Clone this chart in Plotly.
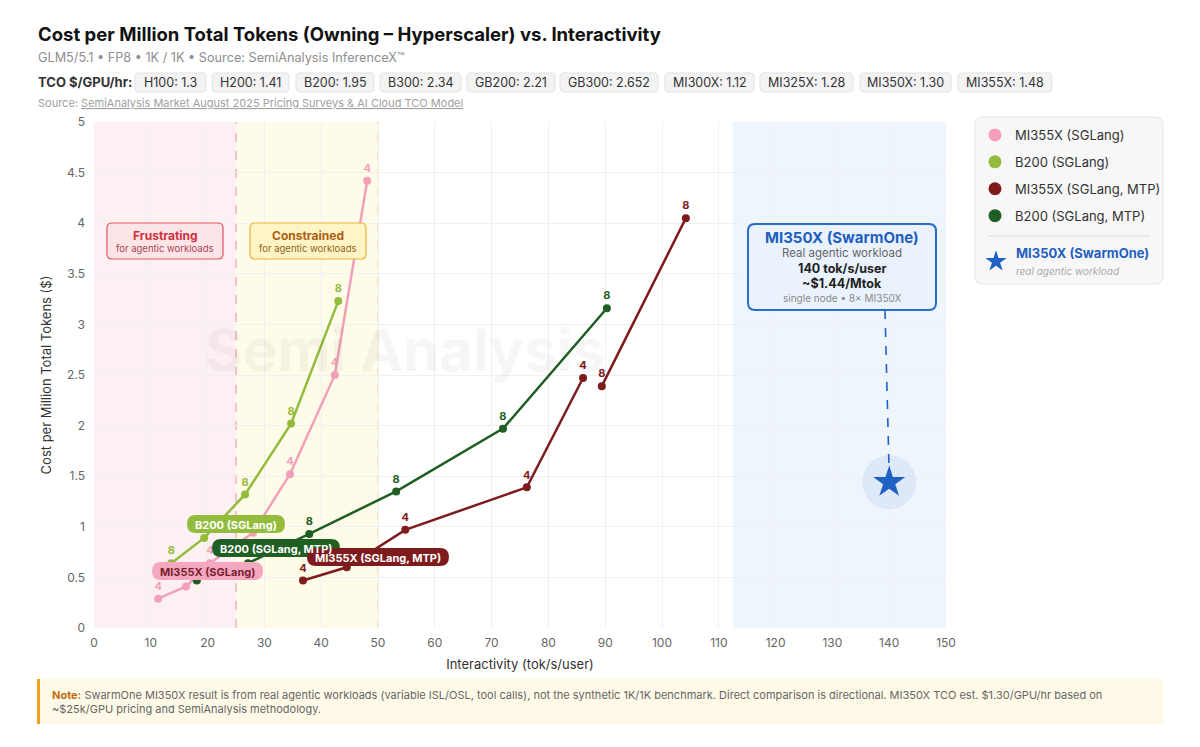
import plotly.graph_objects as go

FONT = "Inter, Roboto, 'DejaVu Sans', sans-serif"

# ---------------- data ----------------
mi355x_x = [11.3, 16.2, 20.4, 28.0, 34.5, 42.4, 48.1]
mi355x_y = [0.29, 0.41, 0.64, 0.94, 1.52, 2.50, 4.42]
mi355x_tp = ["4", "4", "4", "4", "4", "4", "4"]

b200_x = [13.6, 19.4, 26.6, 34.7, 43.0]
b200_y = [0.64, 0.89, 1.32, 2.02, 3.23]
b200_tp = ["8", "8", "8", "8", "8"]

mi355x_mtp_a_x = [36.8, 44.5, 54.8, 76.2, 86.1]
mi355x_mtp_a_y = [0.47, 0.60, 0.97, 1.39, 2.47]
mi355x_mtp_a_tp = ["4", "4", "4", "4", "4"]
mi355x_mtp_b_x = [89.4, 104.2]
mi355x_mtp_b_y = [2.39, 4.05]
mi355x_mtp_b_tp = ["8", "8"]

b200_mtp_x = [18.1, 27.1, 37.9, 53.2, 72.0, 90.3]
b200_mtp_y = [0.47, 0.64, 0.93, 1.35, 1.97, 3.16]
b200_mtp_tp = ["8", "8", "8", "8", "8", "8"]

swarm_x = [140]
swarm_y = [1.44]

tco_labels = ["H100: 1.3", "H200: 1.41", "B200: 1.95", "B300: 2.34", "GB200: 2.21",
              "GB300: 2.652", "MI300X: 1.12", "MI325X: 1.28", "MI350X: 1.30", "MI355X: 1.48"]

x_ticks = list(range(0, 151, 10))
y_ticks = [0, 0.5, 1, 1.5, 2, 2.5, 3, 3.5, 4, 4.5, 5]

# ---------------- style ----------------
C_PINK = "#f2a0ba"
C_LGREEN = "#93bc3c"
C_DRED = "#7e1b1d"
C_DGREEN = "#1f5f23"
C_BLUE = "#1f62c4"

W, H = 1200, 747
L, T, PW, PH = 94, 122, 852, 506


def px(x):
    return (x - L) / PW


def py(y):
    return (T + PH - y) / PH


def rrect(x0, y0, x1, y1, r):
    p = lambda x, y: f"{px(x):.5f},{py(y):.5f}"
    return (f"M{p(x0 + r, y0)} L{p(x1 - r, y0)} Q{p(x1, y0)} {p(x1, y0 + r)} "
            f"L{p(x1, y1 - r)} Q{p(x1, y1)} {p(x1 - r, y1)} L{p(x0 + r, y1)} "
            f"Q{p(x0, y1)} {p(x0, y1 - r)} L{p(x0, y0 + r)} Q{p(x0, y0)} {p(x0 + r, y0)} Z")


shapes = []
annotations = []


def box(x0, y0, x1, y1, r, fill, line=None, lw=1, layer="above"):
    shapes.append(dict(type="path", path=rrect(x0, y0, x1, y1, r), xref="paper", yref="paper",
                       fillcolor=fill, line=dict(color=line or "rgba(0,0,0,0)", width=lw if line else 0),
                       layer=layer))


def text(x, y, s, size=12, color="#333", xanchor="center", weight=None, yanchor="middle", align="center"):
    annotations.append(dict(x=px(x), y=py(y), xref="paper", yref="paper", text=s, showarrow=False,
                            xanchor=xanchor, yanchor=yanchor, align=align,
                            font=dict(size=size, color=color, family=FONT, weight=weight)))


fig = go.Figure()

# zones
shapes.append(dict(type="rect", xref="x", yref="paper", x0=0, x1=25, y0=0, y1=1,
                   fillcolor="#fdf0f2", line=dict(width=0), layer="below"))
shapes.append(dict(type="rect", xref="x", yref="paper", x0=25, x1=50, y0=0, y1=1,
                   fillcolor="#fefbe8", line=dict(width=0), layer="below"))
shapes.append(dict(type="rect", xref="x", yref="paper", x0=112.5, x1=150, y0=0, y1=1,
                   fillcolor="#eef5fd", line=dict(width=0), layer="below"))
shapes.append(dict(type="line", xref="x", yref="paper", x0=25, x1=25, y0=0, y1=1,
                   line=dict(color="#efb3bd", width=1.5, dash="dash"), layer="below"))
shapes.append(dict(type="line", xref="x", yref="paper", x0=50, x1=50, y0=0, y1=1,
                   line=dict(color="#f1e2a6", width=1.5, dash="dash"), layer="below"))


def series(xs, ys, tp, color, name):
    fig.add_trace(go.Scatter(
        x=xs, y=ys, mode="lines+markers+text", name=name, legendgroup=name, showlegend=False,
        line=dict(color=color, width=2.5), marker=dict(color=color, size=8),
        text=tp, textposition="top center", connectgaps=False,
        textfont=dict(color=color, size=11, family=FONT, weight="bold"),
        hoverinfo="x+y+name"))
    # legend entry (marker only)
    fig.add_trace(go.Scatter(x=[None], y=[None], mode="markers", name=name, legendgroup=name,
                             marker=dict(color=color, size=13), hoverinfo="skip"))


series(mi355x_x, mi355x_y, mi355x_tp, C_PINK, "MI355X (SGLang)")
series(b200_x, b200_y, b200_tp, C_LGREEN, "B200 (SGLang)")
series(mi355x_mtp_a_x + [None] + mi355x_mtp_b_x,
       mi355x_mtp_a_y + [None] + mi355x_mtp_b_y,
       mi355x_mtp_a_tp + [""] + mi355x_mtp_b_tp, C_DRED, "MI355X (SGLang, MTP)")
series(b200_mtp_x, b200_mtp_y, b200_mtp_tp, C_DGREEN, "B200 (SGLang, MTP)")

# halo + star
fig.add_trace(go.Scatter(x=swarm_x, y=swarm_y, mode="markers", showlegend=False, hoverinfo="skip",
                         marker=dict(size=54, color="rgba(31,98,196,0.08)", line=dict(width=0))))
fig.add_trace(go.Scatter(
    x=swarm_x, y=swarm_y, mode="markers", legend="legend2",
    name=("<b><span style='color:#1f5fbf'>MI350X (SwarmOne)</span></b><br>"
          "<i><span style='color:#aaaaaa;font-size:10px'>real agentic workload</span></i>"),
    marker=dict(symbol="star", size=24, color=C_BLUE, line=dict(width=0))))

# ------------- header -------------
text(36, 34, "<b>Cost per Million Total Tokens (Owning – Hyperscaler) vs. Interactivity</b>",
     size=18.5, color="#111", xanchor="left")
text(36, 57, "GLM5/5.1 • FP8 • 1K / 1K • Source: SemiAnalysis InferenceX™", size=12.7, color="#8e8e93",
     xanchor="left")
text(36, 82, "<b>TCO $/GPU/hr:</b>", size=13, color="#333", xanchor="left")
pill_x = [(135, 206), (212, 289), (296, 374), (380, 461), (467, 555), (560, 658),
          (665, 754), (760, 853), (860, 951), (958, 1052)]
for lab, (a, b) in zip(tco_labels, pill_x):
    box(a, 73, b, 92, 4, "#f3f3f4", "#e2e2e4", 1)
    text((a + b) / 2, 82.5, lab, size=12.5, color="#333")
text(36, 103, "Source: <u>SemiAnalysis Market August 2025 Pricing Surveys & AI Cloud TCO Model</u>",
     size=11, color="#a0a0a0", xanchor="left")

# watermark
text(405, 350, "<b>Semi Analysis</b>", size=58, color="rgba(0,0,0,0.035)")

# zone labels
box(107, 223, 223, 259, 5, "#fde4e7", "#e2545f", 1.2)
text(165, 235, "<b>Frustrating</b>", size=12, color="#d0303c")
text(165, 248.5, "for agentic workloads", size=9.5, color="#a84452")
box(250, 223, 366, 259, 5, "#fff4c6", "#e9b236", 1.2)
text(308, 235, "<b>Constrained</b>", size=12, color="#ad5e12")
text(308, 248.5, "for agentic workloads", size=9.5, color="#8f6318")

# series label pills
box(187, 515, 285, 533, 9, C_LGREEN)
text(236, 524.5, "<b>B200 (SGLang)</b>", size=11, color="white")
box(212, 539, 340, 557, 9, C_DGREEN)
text(276, 548.5, "<b>B200 (SGLang, MTP)</b>", size=11, color="white")
box(152, 562, 263, 580, 9, "#f3a8c0")
text(207.5, 571.5, "<b>MI355X (SGLang)</b>", size=11, color="#7b1f30")
box(307, 548, 449, 566, 9, C_DRED)
text(378, 557.5, "<b>MI355X (SGLang, MTP)</b>", size=11, color="white")

# callout
shapes.append(dict(type="line", xref="paper", yref="paper", x0=px(885), y0=py(310), x1=px(889), y1=py(468),
                   line=dict(color=C_BLUE, width=1.6, dash="dash"), layer="above"))
box(748, 224, 936, 310, 7, "#eaf2fd", "#2a6cc9", 2)
text(842, 237, "<b>MI350X (SwarmOne)</b>", size=15, color="#1f5fbf")
text(842, 253, "Real agentic workload", size=11.5, color="#666")
text(842, 268.5, "<b>140 tok/s/user</b>", size=12.5, color="#222")
text(842, 283.5, "<b>~$1.44/Mtok</b>", size=12.5, color="#222")
text(842, 298, "single node • 8× MI350X", size=10, color="#8a8a8a")

# legend background + separator
box(975, 117, 1163, 284, 8, "#f7f7f8", "#e6e6e8", 1, layer="below")
shapes.append(dict(type="line", xref="paper", yref="paper", x0=px(988), x1=px(1150), y0=py(236), y1=py(236),
                   line=dict(color="#dcdcdf", width=1)))

# note box
box(37, 679, 1163, 724, 3, "#fffae8")
shapes.append(dict(type="rect", xref="paper", yref="paper", x0=px(37), x1=px(40), y0=py(724), y1=py(679),
                   fillcolor="#f0a020", line=dict(width=0)))
text(50, 701.5,
     "<b><span style='color:#c26a0e'>Note:</span></b> SwarmOne MI350X result is from real agentic workloads "
     "(variable ISL/OSL, tool calls), not the synthetic 1K/1K benchmark. Direct comparison is directional. "
     "MI350X TCO est. $1.30/GPU/hr based on<br>~$25k/GPU pricing and SemiAnalysis methodology.",
     size=11, color="#666", xanchor="left", align="left")

fig.update_layout(
    width=W, height=H,
    margin=dict(l=L, r=W - L - PW, t=T, b=H - T - PH, pad=0),
    paper_bgcolor="white", plot_bgcolor="white",
    font=dict(family=FONT, size=12, color="#555"),
    shapes=shapes, annotations=annotations,
    showlegend=True,
    legend=dict(x=px(975), y=py(120), xanchor="left", yanchor="top", bgcolor="rgba(0,0,0,0)",
                font=dict(size=13, color="#333", family=FONT), tracegroupgap=7,
                itemclick=False, itemdoubleclick=False),
    legend2=dict(x=px(976), y=py(238), xanchor="left", yanchor="top", bgcolor="rgba(0,0,0,0)",
                 font=dict(size=13, color="#333", family=FONT),
                 itemclick=False, itemdoubleclick=False),
    xaxis=dict(range=[0, 150], tickvals=x_ticks, ticktext=[str(v) for v in x_ticks],
               showgrid=True, gridcolor="#f0f0f0", zeroline=False, showline=False,
               tickfont=dict(size=12, color="#666"), ticks="", ticklabelstandoff=6,
               title=dict(text="Interactivity (tok/s/user)", font=dict(size=13, color="#333"), standoff=10)),
    yaxis=dict(range=[0, 5], tickvals=y_ticks, ticktext=[f"{v:g}" for v in y_ticks],
               showgrid=True, gridcolor="#f0f0f0", zeroline=False, showline=False,
               tickfont=dict(size=12, color="#666"), ticks="", ticklabelstandoff=8,
               title=dict(text="Cost per Million Total Tokens ($)", font=dict(size=13, color="#333"), standoff=12)),
)

fig.write_html("out.html", config={"displayModeBar": False},
               post_script="document.body.style.margin='0';")
